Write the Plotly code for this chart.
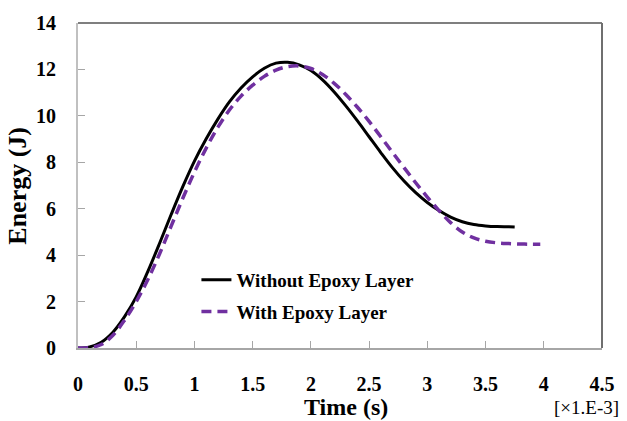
import plotly.graph_objects as go

# Energy vs. time, time axis in units of 1e-3 s
t_without = [0, 0.1, 0.2, 0.3, 0.4, 0.5, 0.6, 0.7, 0.8, 0.9, 1.0, 1.1, 1.2, 1.3,
             1.4, 1.5, 1.6, 1.7, 1.8, 1.9, 2.0, 2.1, 2.2, 2.3, 2.4, 2.5, 2.6,
             2.7, 2.8, 2.9, 3.0, 3.1, 3.2, 3.3, 3.4, 3.5, 3.6, 3.7, 3.75]
e_without = [0, 0.05, 0.25, 0.68, 1.35, 2.2, 3.3, 4.5, 5.75, 6.95, 8.05, 9.0,
             9.85, 10.6, 11.2, 11.68, 12.05, 12.27, 12.31, 12.2, 11.95, 11.55,
             11.03, 10.43, 9.78, 9.1, 8.42, 7.77, 7.19, 6.69, 6.27, 5.92, 5.64,
             5.44, 5.32, 5.26, 5.23, 5.22, 5.21]

t_with = [0, 0.1, 0.2, 0.3, 0.4, 0.5, 0.6, 0.7, 0.8, 0.9, 1.0, 1.1, 1.2, 1.3,
          1.4, 1.5, 1.6, 1.7, 1.8, 1.9, 2.0, 2.1, 2.2, 2.3, 2.4, 2.5, 2.6,
          2.7, 2.8, 2.9, 3.0, 3.1, 3.2, 3.3, 3.4, 3.5, 3.6, 3.7, 3.8, 3.9, 3.97]
e_with = [0, 0.02, 0.15, 0.55, 1.2, 2.0, 2.95, 4.05, 5.25, 6.45, 7.58, 8.6,
          9.5, 10.25, 10.85, 11.32, 11.7, 11.97, 12.12, 12.15, 12.04, 11.78,
          11.4, 10.92, 10.37, 9.76, 9.1, 8.43, 7.77, 7.12, 6.5, 5.92, 5.4,
          5.0, 4.74, 4.6, 4.53, 4.5, 4.48, 4.47, 4.47]

series_names = ["Without Epoxy Layer", "With Epoxy Layer"]
x_ticks = [0, 0.5, 1, 1.5, 2, 2.5, 3, 3.5, 4, 4.5]
y_ticks = [0, 2, 4, 6, 8, 10, 12, 14]

SERIF = "Liberation Serif"

fig = go.Figure()
fig.add_trace(go.Scatter(
    x=t_without, y=e_without, mode="lines", name=series_names[0],
    legendgroup="a", line=dict(color="black", width=3, shape="spline"),
))
fig.add_trace(go.Scatter(
    x=t_with, y=e_with, mode="lines", name=series_names[1],
    legendgroup="b", line=dict(color="#7030A0", width=3.5, dash="10px,6px",
                               shape="spline"),
))

axis_common = dict(
    showgrid=False, zeroline=False, ticks="inside", ticklen=7,
    tickwidth=1, tickcolor="#a6a6a6",
    tickfont=dict(family=SERIF, size=20, color="black", weight="bold"),
)

fig.update_xaxes(
    range=[0, 4.5], tickvals=x_ticks, ticktext=[f"{v:g}" for v in x_ticks],
    showline=True, linecolor="#a6a6a6", linewidth=1.5,
    ticklabelstandoff=17, **axis_common,
)
fig.update_yaxes(
    range=[0, 14], tickvals=y_ticks,
    showline=True, linecolor="#c0c0c0", linewidth=2,
    ticklabelstandoff=16, **axis_common,
)

# darker top and right frame edges
fig.add_shape(type="line", xref="paper", yref="paper", x0=0, x1=1, y0=1, y1=1,
              line=dict(color="#7f7f7f", width=2))
fig.add_shape(type="line", xref="paper", yref="paper", x0=1, x1=1, y0=0, y1=1,
              line=dict(color="#6f6f6f", width=2))

fig.add_annotation(text="Time (s)", xref="paper", yref="paper",
                   x=0.5115, y=-0.182, xanchor="center", yanchor="middle",
                   showarrow=False,
                   font=dict(family=SERIF, size=24, color="black", weight="bold"))
fig.add_annotation(text="Energy (J)", xref="paper", yref="paper",
                   x=-0.116, y=0.5, xanchor="center", yanchor="middle",
                   textangle=-90, showarrow=False,
                   font=dict(family=SERIF, size=26, color="black", weight="bold"))
fig.add_annotation(text="[×1.E-3]", xref="paper", yref="paper",
                   x=0.97, y=-0.182, xanchor="center", yanchor="middle",
                   showarrow=False,
                   font=dict(family=SERIF, size=19, color="black"))

fig.update_layout(
    width=627, height=421,
    margin=dict(l=78, r=19, t=22, b=73),
    font=dict(family=SERIF, color="black"),
    paper_bgcolor="white", plot_bgcolor="white",
    legend=dict(
        x=0.226, y=0.268, xanchor="left", yanchor="top",
        bgcolor="rgba(0,0,0,0)", borderwidth=0, tracegroupgap=4,
        font=dict(family=SERIF, size=19, color="black", weight="bold"),
    ),
)

fig.write_html("out.html")
